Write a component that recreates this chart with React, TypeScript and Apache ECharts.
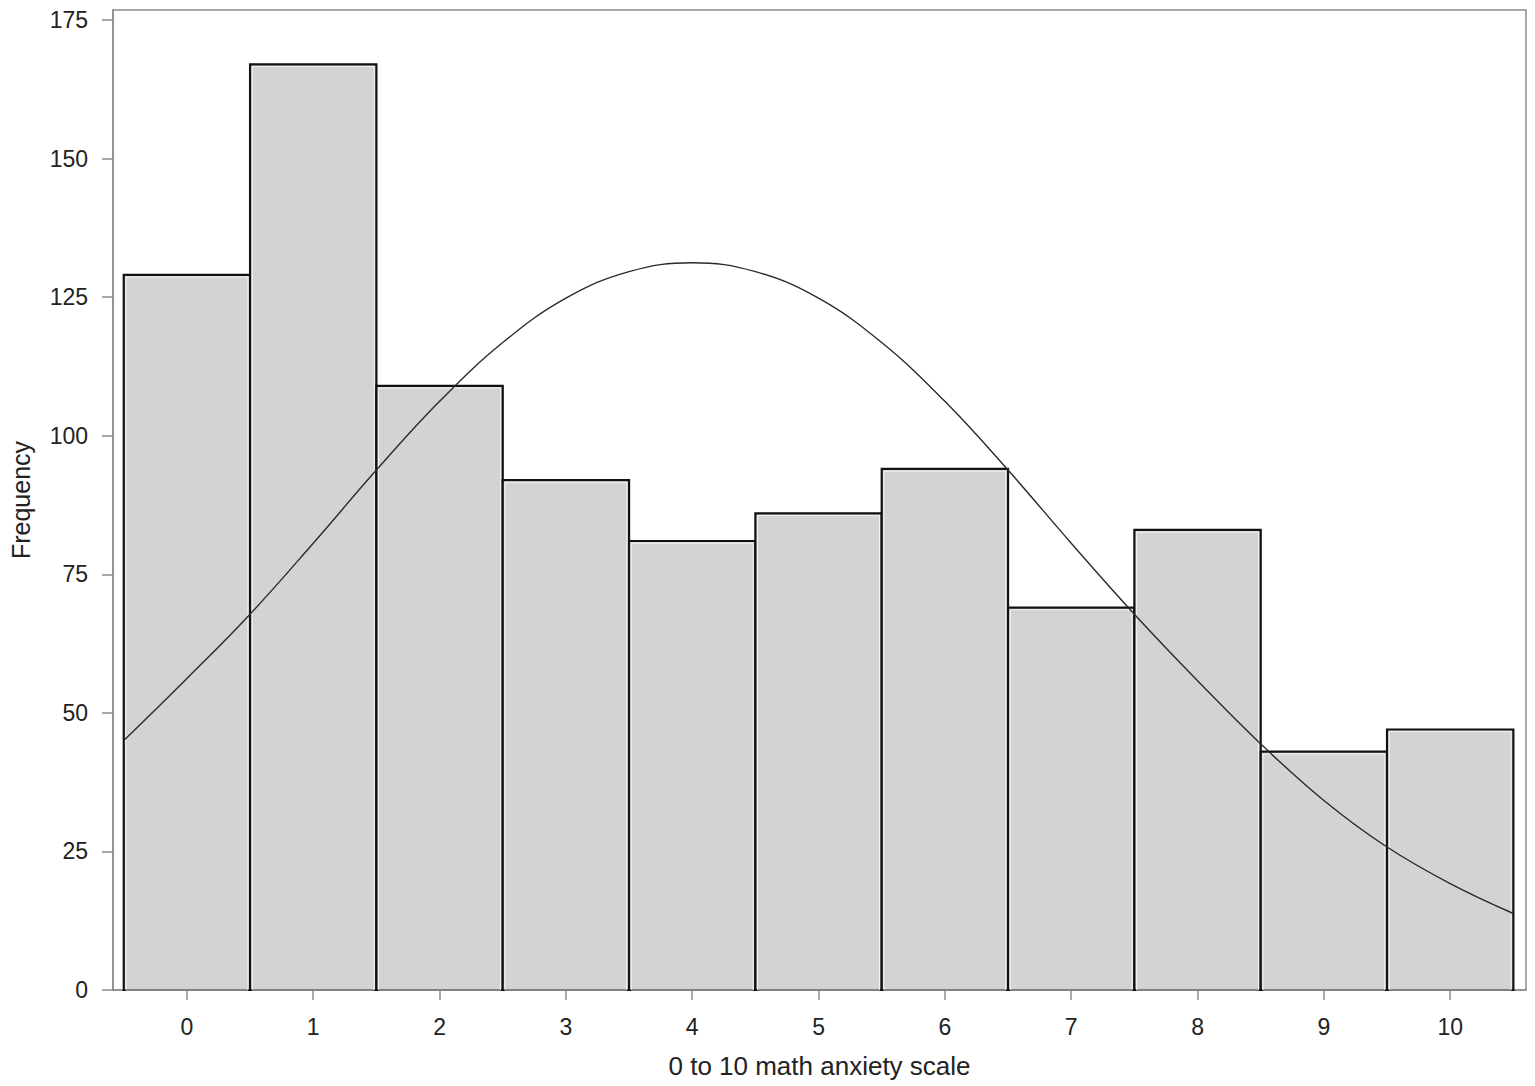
import React, { useEffect, useRef } from "react";
import * as echarts from "echarts";

const categories = [0, 1, 2, 3, 4, 5, 6, 7, 8, 9, 10];
const frequencies = [129, 167, 109, 92, 81, 86, 94, 69, 83, 43, 47];
const curveX = [-0.5, 0, 0.5, 1, 1.5, 2, 2.5, 3, 3.5, 4, 4.5, 5, 5.5, 6, 6.5, 7, 7.5, 8, 8.5, 9, 9.5, 10, 10.5];
const curveY = [45, 56.2, 67.8, 80.6, 93.8, 106.2, 116.8, 124.8, 129.6, 131.2, 129.6, 124.8, 116.8, 106.2, 93.8, 80.6, 67.8, 55.8, 44.4, 34.2, 25.8, 19.2, 13.8];
const yTicks = [0, 25, 50, 75, 100, 125, 150, 175];

export default function App() {
  const ref = useRef<HTMLDivElement>(null);
  useEffect(() => {
    document.body.style.margin = "0";
    const chart = echarts.init(ref.current!, null, { renderer: "svg" });
    const font = "Liberation Sans, Arial, sans-serif";
    chart.setOption({
      animation: false,
      backgroundColor: "#ffffff",
      grid: {
        left: 111,
        right: 9,
        top: 10,
        bottom: 96,
        show: true,
        borderColor: "#8c8c8c",
        borderWidth: 1.5,
      },
      xAxis: {
        type: "value",
        min: -0.585,
        max: 10.6,
        name: "0 to 10 math anxiety scale",
        nameLocation: "middle",
        nameGap: 63,
        nameTextStyle: { fontSize: 26, color: "#222", fontFamily: font },
        axisLine: { show: true, onZero: false, lineStyle: { color: "#8c8c8c", width: 1.5 } },
        axisTick: {
          show: true,
          length: 10,
          lineStyle: { color: "#8c8c8c", width: 1.5 },
          customValues: categories,
        },
        axisLabel: {
          fontSize: 23,
          color: "#222",
          fontFamily: font,
          margin: 25,
          customValues: categories,
        },
        splitLine: { show: false },
      },
      yAxis: {
        type: "value",
        min: 0,
        max: 176.8,
        interval: 25,
        name: "Frequency",
        nameLocation: "middle",
        nameGap: 80,
        nameTextStyle: { fontSize: 25, color: "#222", fontFamily: font },
        axisLine: { show: true, onZero: false, lineStyle: { color: "#8c8c8c", width: 1.5 } },
        axisTick: {
          show: true,
          length: 11,
          lineStyle: { color: "#8c8c8c", width: 1.5 },
          customValues: yTicks,
        },
        axisLabel: {
          fontSize: 23,
          color: "#222",
          fontFamily: font,
          margin: 25,
          customValues: yTicks,
        },
        splitLine: { show: false },
      },
      series: [
        {
          type: "custom",
          data: categories.map((c, i) => [c, frequencies[i]]),
          encode: { x: 0, y: 1 },
          z: 2,
          renderItem: (params: any, api: any) => {
            const x = api.value(0);
            const y = api.value(1);
            const p1 = api.coord([x - 0.5, y]);
            const p2 = api.coord([x + 0.5, 0]);
            const w = p2[0] - p1[0];
            const h = p2[1] - p1[1];
            return {
              type: "group",
              children: [
                {
                  type: "rect",
                  shape: { x: p1[0], y: p1[1], width: w, height: h },
                  style: { fill: "#d3d3d3", stroke: "#111111", lineWidth: 2.2 },
                },
                {
                  type: "rect",
                  shape: { x: p1[0] + 2.2, y: p1[1] + 2.2, width: w - 4.4, height: h - 2.2 },
                  style: { fill: "none", stroke: "#f2f2f2", lineWidth: 1 },
                },
              ],
            };
          },
        },
        {
          type: "line",
          data: curveX.map((x, i) => [x, curveY[i]]),
          smooth: 0.4,
          symbol: "none",
          z: 5,
          lineStyle: { color: "#2a2a2a", width: 1.4 },
        },
      ],
    });
    return () => chart.dispose();
  }, []);
  return <div ref={ref} style={{ width: 1535, height: 1086 }} />;
}
